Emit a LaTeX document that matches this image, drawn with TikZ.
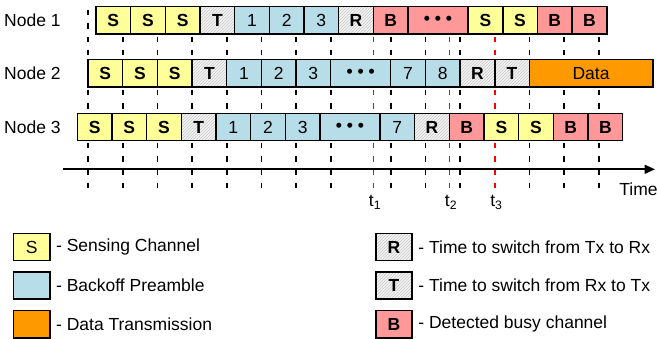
\documentclass[tikz,border=0pt]{standalone}
\usepackage{fontspec}
\setmainfont{Liberation Sans}
\usepackage{tikz}
\usetikzlibrary{positioning, patterns, arrows.meta}

\definecolor{senseyellow}{RGB}{255,255,153}
\definecolor{backoffblue}{RGB}{183,222,232}
\definecolor{busyred}{RGB}{255,153,153}
\definecolor{dataorange}{RGB}{255,153,0}
\definecolor{switchgray}{RGB}{244,244,244}

\tikzstyle{slot} = [rectangle, draw=black, line width=1.6pt, minimum width=34.67pt, minimum height=27.2pt, inner sep=0pt, outer sep=0pt, font=\fontsize{17.5}{20}\selectfont\bfseries]
\tikzstyle{sensebox} = [slot, fill=senseyellow]
\tikzstyle{backoffbox} = [slot, fill=backoffblue, font=\fontsize{17.5}{20}\selectfont]
\tikzstyle{switchbox} = [slot, preaction={fill=switchgray}, pattern=north east lines, pattern color=black!22]
\tikzstyle{busybox} = [slot, fill=busyred]
\tikzstyle{databox} = [slot, fill=dataorange, font=\fontsize{17.5}{20}\selectfont]
\tikzstyle{keybox} = [minimum width=36.4pt]
\tikzstyle{gridline} = [line width=1.6pt, dash pattern=on 5.5pt off 7.8pt]
\tikzstyle{markline} = [gridline, draw=red]
\tikzstyle{timeaxis} = [line width=1.6pt, -{Triangle[length=10.5pt, width=9pt]}]

\begin{document}
\begin{tikzpicture}[x=1pt, y=-1pt, font=\fontsize{17.5}{20}\selectfont, inner sep=0pt]
    \useasboundingbox (0,0) rectangle (657,339);

    % Time grid
    \draw [gridline] (88,10) -- (88,190);
    \draw [gridline] (122.7,10) -- (122.7,190);
    \draw [gridline] (157.3,10) -- (157.3,190);
    \draw [gridline] (192,10) -- (192,190);
    \draw [gridline] (226.7,10) -- (226.7,190);
    \draw [gridline] (261.3,10) -- (261.3,190);
    \draw [gridline] (296,10) -- (296,190);
    \draw [gridline] (330.7,10) -- (330.7,190);
    \draw [gridline] (390.7,10) -- (390.7,190);
    \draw [gridline] (425.3,10) -- (425.3,190);
    \draw [gridline] (460,10) -- (460,190);
    \draw [gridline] (529.3,10) -- (529.3,190);
    \draw [gridline] (564,10) -- (564,190);
    \draw [gridline] (598.7,10) -- (598.7,190);
    \draw [markline] (373.3,10) -- (373.3,190);
    \draw [markline] (449.3,10) -- (449.3,190);
    \draw [markline] (494.7,10) -- (494.7,190);

    % Time axis
    \coordinate (t0) at (63,169.3);
    \coordinate (tn) at (655,169.3);
    \draw [timeaxis] (t0) -- (tn);
    \node (time) at (638.5,189.7) {Time};
    \node (t1) at (375,206.7) [anchor=base] {t\textsubscript{1}};
    \node (t2) at (451,206.7) [anchor=base] {t\textsubscript{2}};
    \node (t3) at (496.4,206.7) [anchor=base] {t\textsubscript{3}};

    % Node 1
    \node (n1) at (4,20.3) [anchor=west] {Node 1};
    \node (a1) at (96,20.3) [sensebox, anchor=west] {S};
    \node (a2) [sensebox, right=0pt of a1] {S};
    \node (a3) [sensebox, right=0pt of a2] {S};
    \node (a4) [switchbox, right=0pt of a3] {T};
    \node (a5) [backoffbox, right=0pt of a4] {1};
    \node (a6) [backoffbox, right=0pt of a5] {2};
    \node (a7) [backoffbox, right=0pt of a6] {3};
    \node (a8) [switchbox, right=0pt of a7] {R};
    \node (a9) [busybox, right=0pt of a8] {B};
    \node (a10) [busybox, minimum width=60pt, right=0pt of a9] {• • •};
    \node (a11) [sensebox, right=0pt of a10] {S};
    \node (a12) [sensebox, right=0pt of a11] {S};
    \node (a13) [busybox, right=0pt of a12] {B};
    \node (a14) [busybox, right=0pt of a13] {B};

    % Node 2
    \node (n2) at (4,73.3) [anchor=west] {Node 2};
    \node (b1) at (88,73.3) [sensebox, anchor=west] {S};
    \node (b2) [sensebox, right=0pt of b1] {S};
    \node (b3) [sensebox, right=0pt of b2] {S};
    \node (b4) [switchbox, right=0pt of b3] {T};
    \node (b5) [backoffbox, right=0pt of b4] {1};
    \node (b6) [backoffbox, right=0pt of b5] {2};
    \node (b7) [backoffbox, right=0pt of b6] {3};
    \node (b8) [backoffbox, minimum width=60pt, right=0pt of b7] {\bfseries • • •};
    \node (b9) [backoffbox, right=0pt of b8] {7};
    \node (b10) [backoffbox, right=0pt of b9] {8};
    \node (b11) [switchbox, right=0pt of b10] {R};
    \node (b12) [switchbox, right=0pt of b11] {T};
    \node (b13) [databox, minimum width=123.4pt, right=0pt of b12] {Data};

    % Node 3
    \node (n3) at (4,127) [anchor=west] {Node 3};
    \node (c1) at (77.3,127) [sensebox, anchor=west] {S};
    \node (c2) [sensebox, right=0pt of c1] {S};
    \node (c3) [sensebox, right=0pt of c2] {S};
    \node (c4) [switchbox, right=0pt of c3] {T};
    \node (c5) [backoffbox, right=0pt of c4] {1};
    \node (c6) [backoffbox, right=0pt of c5] {2};
    \node (c7) [backoffbox, right=0pt of c6] {3};
    \node (c8) [backoffbox, minimum width=60pt, right=0pt of c7] {\bfseries • • •};
    \node (c9) [backoffbox, right=0pt of c8] {7};
    \node (c10) [switchbox, right=0pt of c9] {R};
    \node (c11) [busybox, right=0pt of c10] {B};
    \node (c12) [sensebox, right=0pt of c11] {S};
    \node (c13) [sensebox, right=0pt of c12] {S};
    \node (c14) [busybox, right=0pt of c13] {B};
    \node (c15) [busybox, right=0pt of c14] {B};

    % Legend
    \node (keyS) at (31.7,247) [sensebox, keybox, font=\fontsize{17.5}{20}\selectfont] {S};
    \node (keyP) at (31.7,285.7) [backoffbox, keybox] {};
    \node (keyD) at (31.7,324.3) [databox, keybox] {};
    \node (keyR) at (394,247) [switchbox, keybox] {R};
    \node (keyT) at (394,285.7) [switchbox, keybox] {T};
    \node (keyB) at (394,324.3) [busybox, keybox] {B};
    \node (txtS) [right=6pt of keyS] {- Sensing Channel};
    \node (txtP) [right=6pt of keyP] {- Backoff Preamble};
    \node (txtD) [right=6pt of keyD] {- Data Transmission};
    \node (txtR) [right=6pt of keyR] {- Time to switch from Tx to Rx};
    \node (txtT) [right=6pt of keyT] {- Time to switch from Rx to Tx};
    \node (txtB) [right=6pt of keyB] {- Detected busy channel};
\end{tikzpicture}
\end{document}
